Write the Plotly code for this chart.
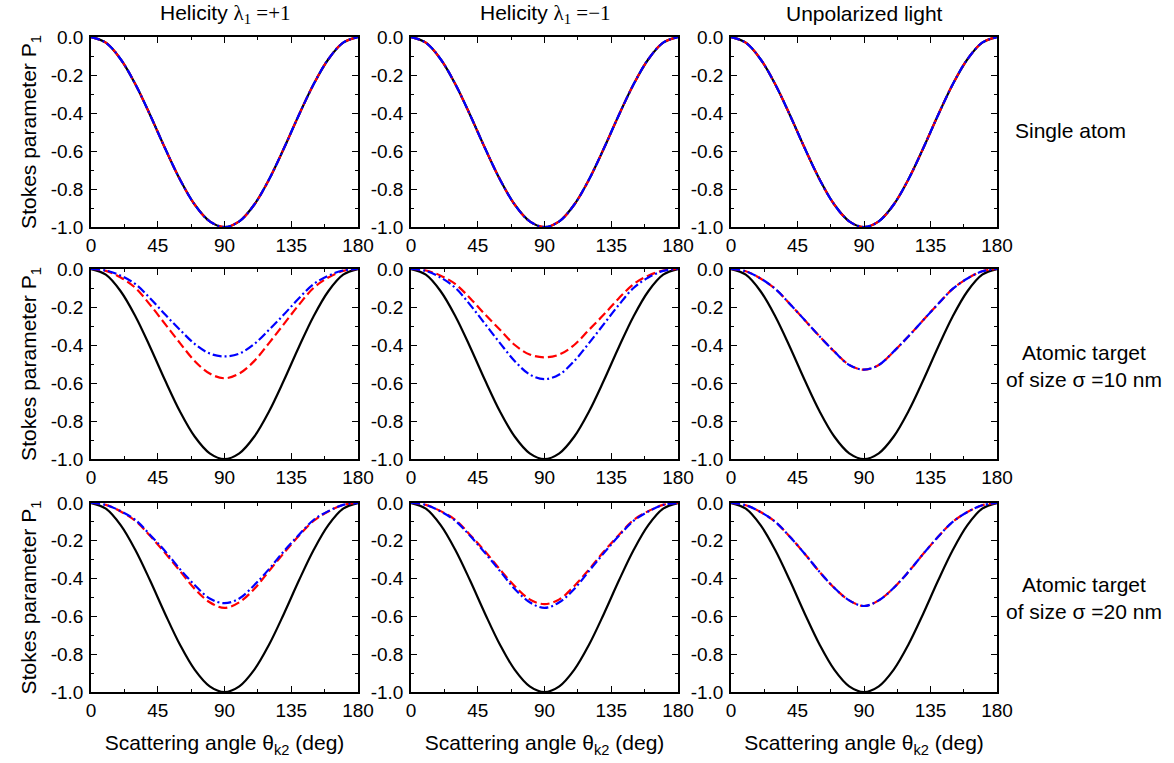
import plotly.graph_objects as go

# Scattering angle (deg)
theta = [0, 10, 20, 30, 40, 50, 60, 70, 80, 90, 100, 110, 120, 130, 140, 150, 160, 170, 180]

def sym(half):
    # half: values from 0 to 90 deg; curves are symmetric about 90 deg
    return half + half[-2::-1]

# Single atom (same for all curves)
single_atom = sym([0.0, -0.03, -0.117, -0.25, -0.413, -0.587, -0.75, -0.883, -0.97, -1.0])

# sigma = 10 nm
s10_plus_red = sym([0.0, -0.01, -0.045, -0.10, -0.19, -0.29, -0.39, -0.485, -0.55, -0.575])
s10_plus_blue = sym([0.0, -0.008, -0.035, -0.08, -0.155, -0.24, -0.32, -0.395, -0.445, -0.46])
s10_minus_red = sym([0.0, -0.008, -0.035, -0.08, -0.155, -0.24, -0.32, -0.40, -0.45, -0.465])
s10_minus_blue = sym([0.0, -0.01, -0.045, -0.10, -0.19, -0.29, -0.39, -0.485, -0.555, -0.58])
s10_unpol_red = sym([0.0, -0.012, -0.05, -0.105, -0.185, -0.27, -0.355, -0.435, -0.505, -0.53])
s10_unpol_blue = sym([0.0, -0.012, -0.05, -0.105, -0.185, -0.27, -0.355, -0.435, -0.505, -0.53])

# sigma = 20 nm
s20_plus_red = sym([0.0, -0.01, -0.045, -0.095, -0.175, -0.265, -0.36, -0.455, -0.525, -0.555])
s20_plus_blue = sym([0.0, -0.01, -0.043, -0.09, -0.17, -0.255, -0.35, -0.435, -0.505, -0.53])
s20_minus_red = sym([0.0, -0.01, -0.043, -0.09, -0.17, -0.257, -0.352, -0.44, -0.51, -0.535])
s20_minus_blue = sym([0.0, -0.01, -0.045, -0.095, -0.175, -0.265, -0.36, -0.455, -0.525, -0.555])
s20_unpol_red = sym([0.0, -0.012, -0.048, -0.10, -0.18, -0.27, -0.365, -0.45, -0.515, -0.545])
s20_unpol_blue = sym([0.0, -0.012, -0.048, -0.10, -0.18, -0.27, -0.365, -0.45, -0.515, -0.545])

col_titles = ['Helicity <span style="font-family:Liberation Serif">λ<sub>1</sub> =+1</span>',
              'Helicity <span style="font-family:Liberation Serif">λ<sub>1</sub> =−1</span>',
              'Unpolarized light']
row_labels = ['Single atom', 'Atomic target<br>of size σ =10 nm', 'Atomic target<br>of size σ =20 nm']

x_ticks = [0, 45, 90, 135, 180]
y_ticks = [0.0, -0.2, -0.4, -0.6, -0.8, -1.0]
y_ticktext = ['0.0', '-0.2', '-0.4', '-0.6', '-0.8', '-1.0']

panels = [
    [(single_atom, single_atom, single_atom), (single_atom, single_atom, single_atom), (single_atom, single_atom, single_atom)],
    [(single_atom, s10_plus_red, s10_plus_blue), (single_atom, s10_minus_red, s10_minus_blue), (single_atom, s10_unpol_red, s10_unpol_blue)],
    [(single_atom, s20_plus_red, s20_plus_blue), (single_atom, s20_minus_red, s20_minus_blue), (single_atom, s20_unpol_red, s20_unpol_blue)],
]

W, H = 1174, 763
col_px = [(91, 358), (411, 678), (731, 997)]
row_px = [(37, 227), (269, 459), (503, 692)]
ml = col_px[0][0]
mr = W - col_px[2][1]
mt = row_px[0][0]
mb = H - row_px[2][1]
pw, ph = W - ml - mr, H - mt - mb

def px_to_xpaper(px):
    return (px - ml) / pw

def px_to_ypaper(py):
    return (H - mb - py) / ph

fig = go.Figure()
FONT = 'Liberation Sans, Arial, sans-serif'
TICKSIZE = 19
TITLESIZE = 21

for r in range(3):
    for c in range(3):
        idx = r * 3 + c + 1
        xa = 'x' if idx == 1 else f'x{idx}'
        ya = 'y' if idx == 1 else f'y{idx}'
        black, red, blue = panels[r][c]
        fig.add_trace(go.Scatter(x=theta, y=black, mode='lines', line=dict(color='black', width=2.2, shape='spline'),
                                 xaxis=xa, yaxis=ya, showlegend=False))
        fig.add_trace(go.Scatter(x=theta, y=red, mode='lines', line=dict(color='red', width=2.2, shape='spline', dash='9px,4px'),
                                 xaxis=xa, yaxis=ya, showlegend=False))
        fig.add_trace(go.Scatter(x=theta, y=blue, mode='lines', line=dict(color='blue', width=2.2, shape='spline', dash='9px,3px,2px,3px'),
                                 xaxis=xa, yaxis=ya, showlegend=False))
        x0, x1 = col_px[c]
        y0, y1 = row_px[r]
        xd = [px_to_xpaper(x0), px_to_xpaper(x1)]
        yd = [px_to_ypaper(y1), px_to_ypaper(y0)]
        common = dict(showgrid=False, zeroline=False, showline=True, linecolor='black', linewidth=1.5,
                      mirror='ticks', ticks='inside', ticklen=6, tickwidth=1.2, tickcolor='black',
                      tickfont=dict(family=FONT, size=TICKSIZE, color='black'))
        xkey = 'xaxis' if idx == 1 else f'xaxis{idx}'
        ykey = 'yaxis' if idx == 1 else f'yaxis{idx}'
        xaxis = dict(common, domain=xd, anchor=ya, range=[0, 180], tickvals=x_ticks,
                     minor=dict(ticks='inside', ticklen=3, tickwidth=1.2, tickcolor='black', dtick=22.5, tick0=0),
                     ticklabelstandoff=0)
        if r == 2:
            xaxis['title'] = dict(text='Scattering angle θ<sub>k2</sub> (deg)',
                                  font=dict(family=FONT, size=TITLESIZE, color='black'), standoff=16)
        yaxis = dict(common, domain=yd, anchor=xa, range=[-1.0, 0.0], tickvals=y_ticks, ticktext=y_ticktext,
                     minor=dict(ticks='inside', ticklen=3, tickwidth=1.2, tickcolor='black', dtick=0.1, tick0=0),
                     ticklabelstandoff=2)
        if c == 0:
            yaxis['title'] = dict(text='Stokes parameter P<sub>1</sub>',
                                  font=dict(family=FONT, size=TITLESIZE, color='black'), standoff=8)
        fig.layout[xkey] = xaxis
        fig.layout[ykey] = yaxis

annotations = []
for c in range(3):
    cx = px_to_xpaper((col_px[c][0] + col_px[c][1]) / 2)
    annotations.append(dict(text=col_titles[c], x=cx, y=px_to_ypaper(14), xref='paper', yref='paper',
                            showarrow=False, font=dict(family=FONT, size=TITLESIZE, color='black'),
                            xanchor='center', yanchor='middle'))
row_centers = [130, 366, 598]
row_x = [1070, 1084, 1084]
for r in range(3):
    annotations.append(dict(text=row_labels[r], x=px_to_xpaper(row_x[r]), y=px_to_ypaper(row_centers[r]),
                            xref='paper', yref='paper', showarrow=False,
                            font=dict(family=FONT, size=TITLESIZE, color='black'),
                            xanchor='center', yanchor='middle'))

fig.update_layout(width=W, height=H, margin=dict(l=ml, r=mr, t=mt, b=mb, autoexpand=False),
                  plot_bgcolor='white', paper_bgcolor='white', annotations=annotations,
                  font=dict(family=FONT, color='black'))

fig.write_html('out.html', config={'displayModeBar': False},
               post_script="document.body.style.margin='0';")
